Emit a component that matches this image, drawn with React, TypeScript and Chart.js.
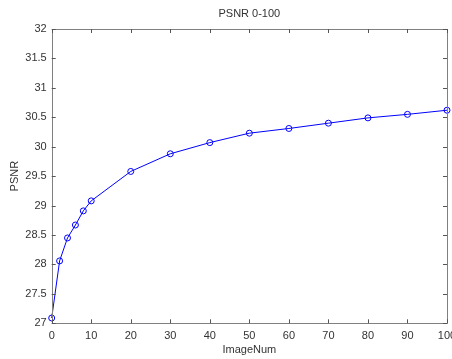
import React, { useEffect, useRef } from "react";
import { Chart, registerables } from "chart.js";

Chart.register(...registerables);

const imageNum = [0, 2, 4, 6, 8, 10, 20, 30, 40, 50, 60, 70, 80, 90, 100];
const psnr = [27.09, 28.06, 28.45, 28.67, 28.91, 29.08, 29.58, 29.88, 30.07, 30.23, 30.31, 30.4, 30.49, 30.55, 30.62];
const xTicks = [0, 10, 20, 30, 40, 50, 60, 70, 80, 90, 100];
const yTicks = [27, 27.5, 28, 28.5, 29, 29.5, 30, 30.5, 31, 31.5, 32];
const titleText = "PSNR 0-100";
const xTitle = "ImageNum";
const yTitle = "PSNR";

const FONT = "'Liberation Sans', Arial, Helvetica, sans-serif";
const AXIS = "#808080";
const TEXT = "#333333";

const framePlugin = {
  id: "matlabFrame",
  afterDraw(chart: any) {
    const { ctx, chartArea: a, scales } = chart;
    const xs = scales.x;
    const ys = scales.y;
    ctx.save();
    ctx.strokeStyle = AXIS;
    ctx.lineWidth = 1;
    ctx.beginPath();
    ctx.rect(Math.round(a.left) + 0.5, Math.round(a.top) + 0.5, Math.round(a.right - a.left), Math.round(a.bottom - a.top));
    ctx.stroke();
    ctx.strokeStyle = "#555555";
    const tl = 4;
    ctx.beginPath();
    xTicks.forEach((v) => {
      const px = Math.round(xs.getPixelForValue(v)) + 0.5;
      ctx.moveTo(px, a.bottom);
      ctx.lineTo(px, a.bottom - tl);
      ctx.moveTo(px, a.top);
      ctx.lineTo(px, a.top + tl);
    });
    yTicks.forEach((v) => {
      const py = Math.round(ys.getPixelForValue(v)) + 0.5;
      ctx.moveTo(a.left, py);
      ctx.lineTo(a.left + tl, py);
      ctx.moveTo(a.right, py);
      ctx.lineTo(a.right - tl, py);
    });
    ctx.stroke();

    ctx.fillStyle = TEXT;
    ctx.font = `11px ${FONT}`;
    ctx.textAlign = "center";
    ctx.textBaseline = "middle";
    ctx.fillText(titleText, (a.left + a.right) / 2, 14);
    ctx.fillText(xTitle, (a.left + a.right) / 2, 350);
    ctx.translate(15, (a.top + a.bottom) / 2);
    ctx.rotate(-Math.PI / 2);
    ctx.fillText(yTitle, 0, 0);
    ctx.restore();
  },
};

export default function App() {
  const ref = useRef<HTMLCanvasElement | null>(null);
  useEffect(() => {
    if (!ref.current) return;
    const chart = new Chart(ref.current, {
      type: "line",
      data: {
        datasets: [
          {
            data: imageNum.map((x, i) => ({ x, y: psnr[i] })),
            borderColor: "#0000ff",
            borderWidth: 1,
            pointStyle: "circle",
            pointRadius: 3,
            pointBorderColor: "#0000ff",
            pointBackgroundColor: "rgba(0,0,0,0)",
            pointBorderWidth: 1,
            tension: 0,
            clip: false as any,
          },
        ],
      },
      options: {
        animation: false,
        responsive: false,
        maintainAspectRatio: false,
        layout: { padding: { top: 29, right: 4.3, left: 0, bottom: 0 } },
        plugins: { legend: { display: false }, title: { display: false }, tooltip: { enabled: false } },
        scales: {
          x: {
            type: "linear",
            min: 0,
            max: 100,
            afterBuildTicks: (s: any) => {
              s.ticks = xTicks.map((v) => ({ value: v }));
            },
            afterFit: (s: any) => {
              s.height = 359 - 323.3;
              s.paddingLeft = 0;
              s.paddingRight = 0;
              s.paddingTop = 0;
              s.paddingBottom = 0;
            },
            grid: { display: false, drawTicks: false },
            border: { display: false },
            ticks: { color: TEXT, font: { family: FONT, size: 11 }, padding: 6, maxRotation: 0, autoSkip: false },
          },
          y: {
            type: "linear",
            min: 27,
            max: 32,
            afterBuildTicks: (s: any) => {
              s.ticks = yTicks.map((v) => ({ value: v }));
            },
            afterFit: (s: any) => {
              s.width = 51.7;
              s.paddingLeft = 0;
              s.paddingRight = 0;
              s.paddingTop = 0;
              s.paddingBottom = 0;
            },
            grid: { display: false, drawTicks: false },
            border: { display: false },
            ticks: {
              color: TEXT,
              font: { family: FONT, size: 11 },
              padding: 5,
              autoSkip: false,
              callback: (v: any) => String(v),
            },
          },
        },
      },
      plugins: [framePlugin],
    });
    return () => chart.destroy();
  }, []);
  return (
    <div style={{ position: "fixed", left: 0, top: 0, width: 452, height: 359, background: "#fff" }}>
      <canvas ref={ref} width={452} height={359} style={{ width: 452, height: 359 }} />
    </div>
  );
}
